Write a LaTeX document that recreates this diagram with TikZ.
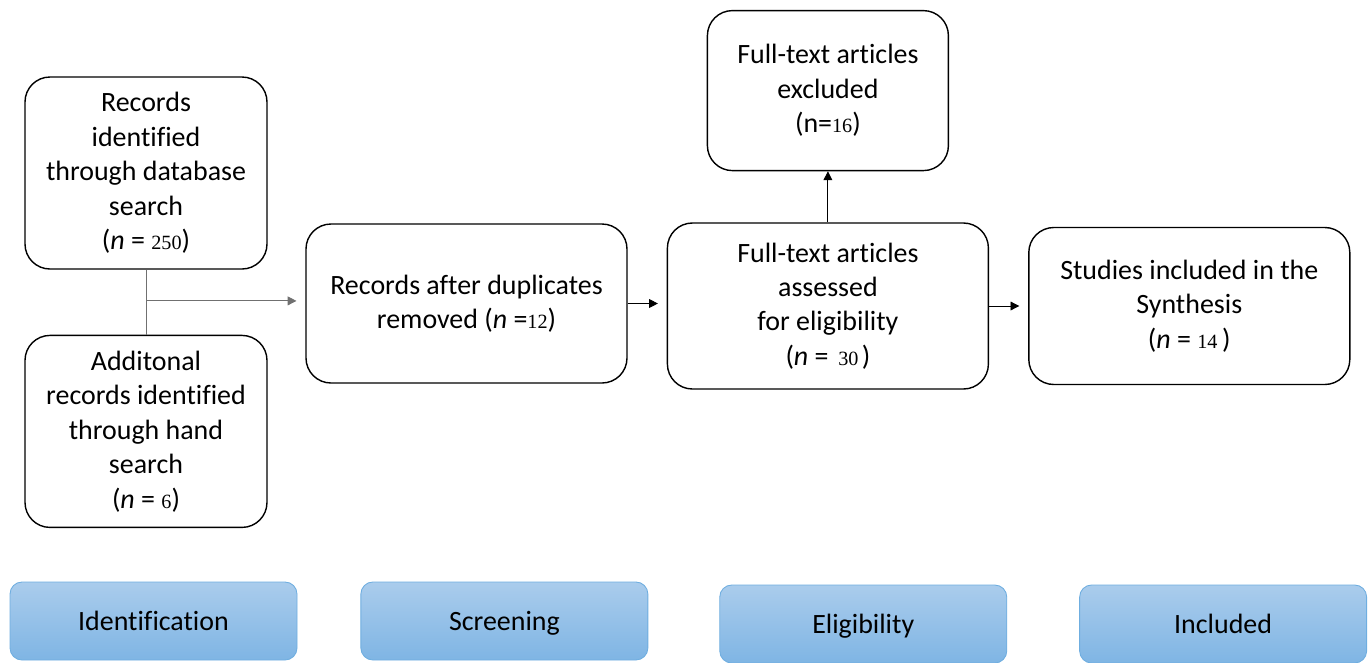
\documentclass[tikz,border=0pt]{standalone}
\usepackage{fontspec}
\setmainfont{Carlito}[Ligatures=NoCommon]
\newfontfamily\numfont{Liberation Serif}
\usepackage{tikz}
\usetikzlibrary{arrows.meta,positioning,calc}
\definecolor{phaseTop}{HTML}{AACCEC}
\definecolor{phaseBot}{HTML}{7FB5E4}
\definecolor{phaseLine}{HTML}{6FAEE0}
\definecolor{linkgray}{HTML}{707070}
\newcommand{\nval}[1]{{\numfont\fontsize{11.5}{12}\selectfont #1}}
\tikzset{
  recbox/.style={
    draw=black, line width=0.8pt, rounded corners=0.5cm,
    font=\fontsize{15.9}{19.6}\selectfont, align=center,
    inner sep=2pt,
  },
  phasebox/.style={
    draw=phaseLine, line width=0.5pt, rounded corners=0.24cm,
    top color=phaseTop, bottom color=phaseBot,
    font=\fontsize{15.9}{19.6}\selectfont,
    text height=1.2em, text depth=0.08em,
    minimum width=5.74cm, minimum height=1.56cm,
  },
  arrow/.style={-{Triangle[length=5pt,width=5pt]}, line width=0.5pt, color=black},
  link/.style={line width=0.5pt, color=linkgray},
}

\begin{document}
\begin{tikzpicture}[
  tallbox/.style={recbox, minimum width=4.84cm, minimum height=3.84cm},
  widebox/.style={recbox, minimum width=6.42cm, minimum height=3.2cm},
  node distance=0.78cm
]
  \useasboundingbox (0,0) rectangle (27.36,-13.24);

  % identification
  \node[tallbox] (db) at (2.92,-3.46)
    {Records\\identified\\through database\\search\\(\textit{n} = \nval{250})};
  \node[tallbox, below=1.3cm of db] (hand)
    {Additonal\\records identified\\through hand\\search\\(\textit{n} = \nval{6})};

  % screening, eligibility, included
  \node[widebox, minimum height=3.18cm] (dup) at (9.33,-6.07)
    {Records after duplicates\\removed (\textit{n} =\nval{12})};
  \node[widebox, minimum height=3.32cm, right=of dup, yshift=-0.05cm] (full)
    {Full-text articles\\assessed\\for eligibility\\(\textit{n} = \nval{\,30\,})};
  \node[recbox, minimum width=4.82cm, minimum height=3.2cm, above=1.02cm of full] (excl)
    {Full-text articles\\excluded\\(n=\nval{16})};
  \node[widebox, minimum height=3.14cm, right=of full] (incl)
    {Studies included in the\\Synthesis\\(\textit{n} = \nval{14}\,)};

  % phase labels
  \node[phasebox] (ident) at (3.07,-12.42) {Identification};
  \node[phasebox, right=1.26cm of ident] (screen) {Screening};
  \node[phasebox, right=1.42cm of screen, yshift=-0.06cm] (elig) {Eligibility};
  \node[phasebox, right=1.44cm of elig] (incphase) {Included};

  \coordinate (join) at ($(db.south)!0.48!(hand.north)$);

  \draw[link] (db) -- (hand);
  \draw[arrow, color=linkgray, shorten >=5pt] (join) -- (join -| dup.west);
  \draw[arrow, shorten >=5pt] (dup) -- (full.west |- dup);
  \draw[arrow, shorten >=5pt] (full.east |- incl) -- (incl);
  \draw[arrow] (full) -- (excl);

\end{tikzpicture}
\end{document}
